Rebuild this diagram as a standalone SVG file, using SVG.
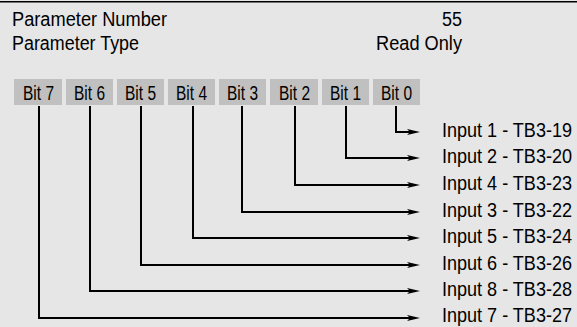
<svg xmlns="http://www.w3.org/2000/svg" width="577" height="327" viewBox="0 0 577 327">
<style>
  .t { font-family: "Liberation Sans", Arial, sans-serif; font-size: 19.5px; fill: #000; }
  .in { font-family: "Liberation Sans", Arial, sans-serif; font-size: 18px; fill: #000; }
  .box { fill: #c0c0c0; }
  .wire { fill: none; stroke: #000; stroke-width: 2; marker-end: url(#arr); }
</style>
<defs>
  <marker id="arr" markerUnits="userSpaceOnUse" markerWidth="14" markerHeight="8" refX="5" refY="3" orient="auto" overflow="visible">
    <path d="M0,0 L13,3 L0,6 L3,3 Z" fill="#000"/>
  </marker>
</defs>
<rect x="0" y="0" width="577" height="327" fill="#e6e6e6"/>
<line x1="0" y1="1.75" x2="577" y2="1.75" stroke="#000" stroke-width="1.5"/>

<g id="header">
  <text class="t" x="12" y="26" textLength="155" lengthAdjust="spacingAndGlyphs">Parameter Number</text>
  <text class="t" x="12" y="50" textLength="127" lengthAdjust="spacingAndGlyphs">Parameter Type</text>
  <text class="t" x="442" y="26" textLength="20" lengthAdjust="spacingAndGlyphs">55</text>
  <text class="t" x="376" y="50" textLength="86" lengthAdjust="spacingAndGlyphs">Read Only</text>
</g>

<g id="bit7"><rect class="box" x="14" y="79" width="48" height="26"/><text class="t" x="23" y="99.5" textLength="31" lengthAdjust="spacingAndGlyphs">Bit 7</text></g>
<g id="bit6"><rect class="box" x="66" y="79" width="47" height="26"/><text class="t" x="74" y="99.5" textLength="31" lengthAdjust="spacingAndGlyphs">Bit 6</text></g>
<g id="bit5"><rect class="box" x="117" y="79" width="47" height="26"/><text class="t" x="125" y="99.5" textLength="31" lengthAdjust="spacingAndGlyphs">Bit 5</text></g>
<g id="bit4"><rect class="box" x="168" y="79" width="47" height="26"/><text class="t" x="176" y="99.5" textLength="31" lengthAdjust="spacingAndGlyphs">Bit 4</text></g>
<g id="bit3"><rect class="box" x="219" y="79" width="47" height="26"/><text class="t" x="227" y="99.5" textLength="31" lengthAdjust="spacingAndGlyphs">Bit 3</text></g>
<g id="bit2"><rect class="box" x="270" y="79" width="48" height="26"/><text class="t" x="279" y="99.5" textLength="31" lengthAdjust="spacingAndGlyphs">Bit 2</text></g>
<g id="bit1"><rect class="box" x="322" y="79" width="47" height="26"/><text class="t" x="330" y="99.5" textLength="31" lengthAdjust="spacingAndGlyphs">Bit 1</text></g>
<g id="bit0"><rect class="box" x="373" y="79" width="47" height="26"/><text class="t" x="381" y="99.5" textLength="31" lengthAdjust="spacingAndGlyphs">Bit 0</text></g>

<g id="connectors">
  <path class="wire" d="M396,106 V132 H412"/>
  <path class="wire" d="M346,106 V158 H412"/>
  <path class="wire" d="M295,106 V185 H412"/>
  <path class="wire" d="M242,106 V212 H412"/>
  <path class="wire" d="M193,106 V238 H412"/>
  <path class="wire" d="M141,106 V265 H412"/>
  <path class="wire" d="M90,106 V291 H412"/>
  <path class="wire" d="M39,106 V318 H412"/>
</g>

<g id="inputs">
  <text class="in" transform="translate(442,136.5) scale(1,1.08)" x="0" y="0" textLength="130" lengthAdjust="spacingAndGlyphs">Input 1 - TB3-19</text>
  <text class="in" transform="translate(442,162.5) scale(1,1.08)" x="0" y="0" textLength="130" lengthAdjust="spacingAndGlyphs">Input 2 - TB3-20</text>
  <text class="in" transform="translate(442,189.5) scale(1,1.08)" x="0" y="0" textLength="130" lengthAdjust="spacingAndGlyphs">Input 4 - TB3-23</text>
  <text class="in" transform="translate(442,216.5) scale(1,1.08)" x="0" y="0" textLength="130" lengthAdjust="spacingAndGlyphs">Input 3 - TB3-22</text>
  <text class="in" transform="translate(442,242.5) scale(1,1.08)" x="0" y="0" textLength="130" lengthAdjust="spacingAndGlyphs">Input 5 - TB3-24</text>
  <text class="in" transform="translate(442,269.5) scale(1,1.08)" x="0" y="0" textLength="130" lengthAdjust="spacingAndGlyphs">Input 6 - TB3-26</text>
  <text class="in" transform="translate(442,295.5) scale(1,1.08)" x="0" y="0" textLength="130" lengthAdjust="spacingAndGlyphs">Input 8 - TB3-28</text>
  <text class="in" transform="translate(442,322) scale(1,1.08)" x="0" y="0" textLength="130" lengthAdjust="spacingAndGlyphs">Input 7 - TB3-27</text>
</g>
</svg>
